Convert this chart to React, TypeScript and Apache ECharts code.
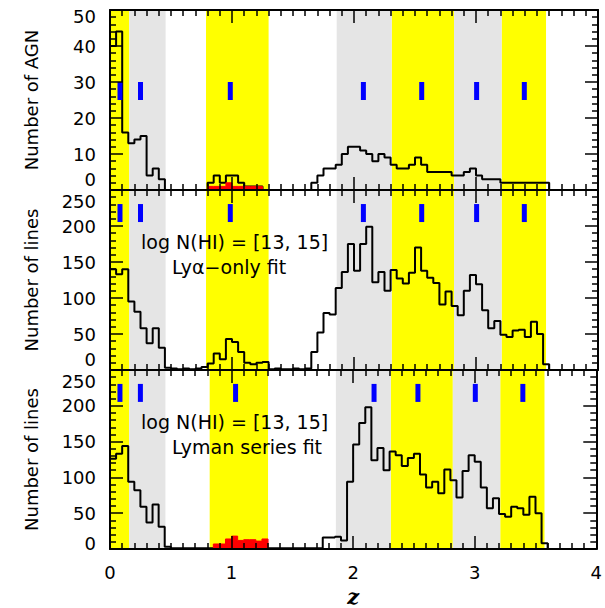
import React, { useEffect, useRef } from 'react';
import * as echarts from 'echarts';

// ---------- data ----------
const BIN_WIDTH = 0.05;

// Top panel: number of AGN per z bin (bins start at z = 0)
const agnCounts = [
  40, 44, 16, 13, 14, 15, 4, 6, 3, 0,
  0, 0, 0, 0, 0, 0, 2, 4, 2, 4,
  4, 2, 1, 1, 1, 0, 0, 0, 0, 0,
  0, 0, 0, 2, 4, 6, 6, 7, 10, 12,
  12, 11, 10, 8, 10, 9, 7, 6, 6, 7,
  9, 7, 5, 5, 5, 5, 4, 4, 5, 6,
  4, 3, 3, 3, 2, 2, 2, 2, 2, 2,
  2, 2,
];
const agnRedStart = 0.8;
const agnRed = [1, 1, 1, 2, 1, 1, 1, 1, 1];

// Middle panel: Ly-alpha only fit
const lyaOnlyCounts = [
  140, 133, 140, 95, 81, 58, 37, 58, 31, 3,
  2, 1, 2, 1, 2, 4, 9, 23, 15, 43,
  39, 25, 10, 8, 10, 11, 1, 2, 1, 1,
  2, 1, 2, 25, 52, 79, 77, 114, 136, 175,
  138, 175, 199, 122, 136, 110, 139, 127, 120, 135,
  170, 138, 128, 121, 91, 109, 89, 76, 110, 132,
  119, 83, 58, 68, 49, 46, 55, 56, 46, 67,
  50, 8,
];

// Bottom panel: Lyman series fit
const lymanCounts = [
  126, 133, 144, 94, 82, 59, 37, 62, 31, 3,
  1, 1, 1, 1, 1, 1, 1, 1, 1, 1,
  1, 1, 1, 1, 1, 1, 1, 1, 1, 1,
  1, 1, 1, 1, 1, 16, 16, 17, 12, 94,
  146, 176, 198, 124, 141, 110, 136, 131, 116, 127,
  133, 104, 86, 94, 78, 111, 96, 72, 109, 131,
  122, 86, 57, 71, 49, 45, 59, 57, 48, 73,
  50, 8,
];
const lymanRedStart = 0.85;
const lymanRed = [7, 7, 14, 18, 12, 13, 13, 11, 14];

// shaded z bands
const yellowBandsUpper = [[0, 0.158], [0.787, 1.3], [2.309, 2.82], [3.21, 3.574]];
const yellowBandsLower = [[0, 0.158], [0.82, 1.3], [2.309, 2.82], [3.21, 3.574]];
const grayBands = [[0.158, 0.456], [1.858, 2.309], [2.82, 3.21]];

// blue marks
const marksUpper = [0.082, 0.25, 0.986, 2.077, 2.555, 3.005, 3.396];
const marksLower = [0.082, 0.25, 1.033, 2.172, 2.533, 3.005, 3.396];
const markLevelAgn = 27.5;
const markLevelLines = 218;

const xTicks = [0, 1, 2, 3, 4];
const yMaxAgn = 50;
const yMaxLines = 250;

// ---------- helpers ----------
const FONT = '"DejaVu Sans", sans-serif';

function toSteps(values: number[], start = 0): number[][] {
  const pts: number[][] = [[start, 0]];
  values.forEach((v, i) => pts.push([+(start + i * BIN_WIDTH).toFixed(4), v]));
  pts.push([+(start + values.length * BIN_WIDTH).toFixed(4), 0]);
  return pts;
}

function bandData(yellow: number[][], gray: number[][]) {
  const d: any[] = [];
  yellow.forEach(([a, b]) =>
    d.push([{ xAxis: a, itemStyle: { color: '#ffff00', opacity: 1 } }, { xAxis: b }])
  );
  gray.forEach(([a, b]) =>
    d.push([{ xAxis: a, itemStyle: { color: '#e5e5e5', opacity: 1 } }, { xAxis: b }])
  );
  return d;
}

const tickLine = { color: '#000', width: 1.5 };

function makeXAxes(gi: number, withLabels: boolean) {
  const common: any = {
    type: 'value',
    gridIndex: gi,
    min: xTicks[0],
    max: xTicks[xTicks.length - 1],
    interval: 1,
    z: 10,
    axisLine: { show: true, onZero: false, lineStyle: { color: '#000', width: 2 } },
    axisTick: { show: true, inside: true, length: 13, lineStyle: tickLine },
    minorTick: { show: true, splitNumber: 10, length: 6, lineStyle: tickLine },
    splitLine: { show: false },
    minorSplitLine: { show: false },
  };
  return [
    {
      ...common,
      position: 'bottom',
      axisLabel: withLabels
        ? { show: true, margin: 14, fontSize: 18, fontFamily: FONT, color: '#000' }
        : { show: false },
      name: withLabels ? 'z' : '',
      nameLocation: 'middle',
      nameGap: 37,
      nameTextStyle: {
        fontSize: 21,
        fontWeight: 'bold',
        fontStyle: 'italic',
        fontFamily: '"DejaVu Serif", serif',
        color: '#000',
      },
    },
    { ...common, position: 'top', axisLabel: { show: false } },
  ];
}

function makeYAxes(
  gi: number,
  max: number,
  interval: number,
  name: string,
  padLo: number,
  padHi: number
) {
  const common: any = {
    type: 'value',
    gridIndex: gi,
    min: 0,
    max,
    interval,
    z: 10,
    axisLine: { show: true, onZero: false, lineStyle: { color: '#000', width: 2 } },
    axisTick: { show: true, inside: true, length: 13, lineStyle: tickLine },
    minorTick: { show: true, splitNumber: 5, length: 6, lineStyle: tickLine },
    splitLine: { show: false },
    minorSplitLine: { show: false },
  };
  const rs = { fontSize: 18, fontFamily: FONT, color: '#000' };
  return [
    {
      ...common,
      position: 'left',
      name,
      nameLocation: 'middle',
      nameGap: 70,
      nameTextStyle: { fontSize: 18, fontFamily: FONT, color: '#000' },
      axisLabel: {
        show: true,
        margin: 14,
        fontSize: 18,
        fontFamily: FONT,
        color: '#000',
        showMinLabel: true,
        showMaxLabel: true,
        formatter: (v: number) =>
          v === 0 ? '{lo|0}' : v === max ? '{hi|' + v + '}' : '{n|' + v + '}',
        rich: {
          lo: { ...rs, padding: [0, 0, padLo, 0] },
          hi: { ...rs, padding: [padHi, 0, 0, 0] },
          n: { ...rs },
        },
      },
    },
    { ...common, position: 'right', axisLabel: { show: false } },
  ];
}

function panelSeries(
  gi: number,
  counts: number[],
  redStart: number,
  red: number[],
  yellow: number[][],
  marks: number[],
  markLevel: number
) {
  return [
    {
      type: 'line',
      xAxisIndex: gi * 2,
      yAxisIndex: gi * 2,
      data: [[0, 0]],
      symbol: 'none',
      lineStyle: { width: 0 },
      silent: true,
      z: 1,
      markArea: {
        silent: true,
        label: { show: false },
        emphasis: { disabled: true },
        data: bandData(yellow, grayBands),
      },
    },
    {
      type: 'line',
      xAxisIndex: gi * 2,
      yAxisIndex: gi * 2,
      step: 'end',
      symbol: 'none',
      data: toSteps(counts, 0),
      lineStyle: { color: '#000', width: 2 },
      z: 3,
    },
    ...(red.length
      ? [
          {
            type: 'line',
            xAxisIndex: gi * 2,
            yAxisIndex: gi * 2,
            step: 'end',
            symbol: 'none',
            data: toSteps(red, redStart),
            lineStyle: { color: '#ff0000', width: 1 },
            areaStyle: { color: '#ff0000', opacity: 1 },
            z: 4,
          },
        ]
      : []),
    {
      type: 'scatter',
      xAxisIndex: gi * 2,
      yAxisIndex: gi * 2,
      symbol: 'rect',
      symbolSize: [5, 18],
      itemStyle: { color: '#0000ff', opacity: 1 },
      data: marks.map((m) => [m, markLevel]),
      z: 5,
    },
  ];
}

export default function App() {
  const ref = useRef<HTMLDivElement>(null);
  useEffect(() => {
    if (!ref.current) return;
    const chart = echarts.init(ref.current, undefined, { renderer: 'svg' });
    const gridCommon = { left: 110, width: 488, height: 180, containLabel: false };
    const option: any = {
      animation: false,
      backgroundColor: '#ffffff',
      grid: [
        { ...gridCommon, top: 10 },
        { ...gridCommon, top: 190 },
        { ...gridCommon, top: 370 },
      ],
      xAxis: [...makeXAxes(0, false), ...makeXAxes(1, false), ...makeXAxes(2, true)],
      yAxis: [
        ...makeYAxes(0, yMaxAgn, 10, 'Number of AGN', 22, 12),
        ...makeYAxes(1, yMaxLines, 50, 'Number of lines', 22, 22),
        ...makeYAxes(2, yMaxLines, 50, 'Number of lines', 12, 22),
      ],
      series: [
        ...panelSeries(0, agnCounts, agnRedStart, agnRed, yellowBandsUpper, marksUpper, markLevelAgn),
        ...panelSeries(1, lyaOnlyCounts, 0, [], yellowBandsUpper, marksUpper, markLevelLines),
        ...panelSeries(2, lymanCounts, lymanRedStart, lymanRed, yellowBandsLower, marksLower, markLevelLines),
      ],
      graphic: [
        {
          type: 'text',
          x: 141,
          y: 242,
          z: 20,
          style: { text: 'log N(HI) = [13, 15]', fontSize: 19, fontFamily: FONT, fill: '#000', verticalAlign: 'middle', align: 'left' },
        },
        {
          type: 'text',
          x: 172,
          y: 267,
          z: 20,
          style: { text: 'Lyα−only fit', fontSize: 19, fontFamily: FONT, fill: '#000', verticalAlign: 'middle', align: 'left' },
        },
        {
          type: 'text',
          x: 141,
          y: 422,
          z: 20,
          style: { text: 'log N(HI) = [13, 15]', fontSize: 19, fontFamily: FONT, fill: '#000', verticalAlign: 'middle', align: 'left' },
        },
        {
          type: 'text',
          x: 172,
          y: 447,
          z: 20,
          style: { text: 'Lyman series fit', fontSize: 19, fontFamily: FONT, fill: '#000', verticalAlign: 'middle', align: 'left' },
        },
      ],
    };
    chart.setOption(option);
    return () => chart.dispose();
  }, []);
  return (
    <div
      ref={ref}
      style={{ position: 'fixed', left: 0, top: 0, width: 605, height: 608, background: '#fff' }}
    />
  );
}
